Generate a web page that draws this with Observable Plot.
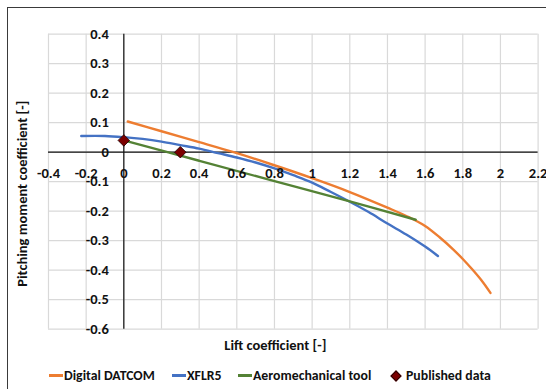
<!DOCTYPE html>
<html>
<head>
<meta charset="utf-8">
<script src="https://cdn.jsdelivr.net/npm/d3@7"></script>
<script src="https://cdn.jsdelivr.net/npm/@observablehq/plot@0.6"></script>
<style>
  body { margin: 0; background: #fff; }
  #chart { position: relative; width: 546px; height: 389px; overflow: hidden; font-family: Carlito, Lato, "Open Sans", sans-serif; }
  #frame { position: absolute; left: 7px; top: 7px; width: 600px; height: 420px; border-top: 1.5px solid #3a3a3a; border-left: 1.5px solid #3a3a3a; pointer-events: none; }
  #legend { position: absolute; left: 0; top: 367px; width: 546px; height: 18px; }
  .item { position: absolute; top: 0; display: flex; align-items: center; font-weight: bold; font-size: 13.8px; color: #111; white-space: nowrap; }
  .swatch { width: 14px; height: 2.5px; margin-right: 1px; }
  .diamond { width: 6px; height: 6px; transform: rotate(45deg); background: #7b0000; border: 1px solid #2a0000; margin: 0 6px 0 3px; }
</style>
</head>
<body>
<div id="chart">
  <div id="frame"></div>
  <div id="legend"></div>
</div>
<script>
// Pitching moment coefficient vs. lift coefficient, four sources
const datcomCL = [0.021, 0.2, 0.4, 0.583, 0.779, 1.0, 1.2, 1.4, 1.52, 1.6, 1.68, 1.75, 1.8, 1.85, 1.9, 1.947];
const datcomCm = [0.104, 0.071, 0.034, 0.0, -0.040, -0.088, -0.135, -0.188, -0.222, -0.250, -0.290, -0.330, -0.362, -0.397, -0.435, -0.477];

const xflr5CL = [-0.226, -0.1, 0.0, 0.1, 0.2, 0.3, 0.4, 0.5, 0.6, 0.7, 0.8, 0.9, 1.0, 1.1, 1.2, 1.3, 1.4, 1.5, 1.6, 1.668];
const xflr5Cm = [0.055, 0.055, 0.051, 0.045, 0.036, 0.024, 0.012, -0.003, -0.018, -0.035, -0.055, -0.078, -0.103, -0.135, -0.168, -0.203, -0.242, -0.279, -0.320, -0.352];

const aeroCL = [0.0, 0.4, 0.8, 1.2, 1.55];
const aeroCm = [0.040, -0.029, -0.098, -0.167, -0.229];

const publishedCL = [0.0, 0.3];
const publishedCm = [0.04, 0.0];

const seriesNames = ["Digital DATCOM", "XFLR5", "Aeromechanical tool", "Published data"];
const seriesColors = ["#ED7D31", "#4472C4", "#548235", "#7B0000"];

const xTicks = [-0.4, -0.2, 0, 0.2, 0.4, 0.6, 0.8, 1, 1.2, 1.4, 1.6, 1.8, 2, 2.2];
const yTicks = [-0.6, -0.5, -0.4, -0.3, -0.2, -0.1, 0, 0.1, 0.2, 0.3, 0.4];

const xTitle = "Lift coefficient [-]";
const yTitle = "Pitching moment coefficient [-]";

const toRows = (cl, cm, name) => cl.map((v, i) => ({cl: v, cm: cm[i], name}));
const lines = [
  toRows(datcomCL, datcomCm, seriesNames[0]),
  toRows(xflr5CL, xflr5Cm, seriesNames[1]),
  toRows(aeroCL, aeroCm, seriesNames[2])
];
const published = toRows(publishedCL, publishedCm, seriesNames[3]);
const fmt = v => String(Math.round(v * 10) / 10);
const labelFont = {fontWeight: "bold", fontSize: 14.5, fill: "#111", fontFamily: "Carlito, Lato, 'Open Sans', sans-serif"};

const plot = Plot.plot({
  width: 546,
  height: 389,
  marginLeft: 48,
  marginRight: 8.4,
  marginTop: 33.7,
  marginBottom: 60.3,
  x: {domain: [-0.4, 2.2], axis: null},
  y: {domain: [-0.6, 0.4], axis: null},
  style: {background: "transparent", overflow: "visible"},
  marks: [
    Plot.ruleX(xTicks, {stroke: "#d9d9d9", strokeWidth: 1.2, strokeOpacity: 1}),
    Plot.ruleY(yTicks, {stroke: "#d9d9d9", strokeWidth: 1.2, strokeOpacity: 1}),
    Plot.ruleX([0], {stroke: "#111", strokeWidth: 1.2}),
    Plot.ruleY([0], {stroke: "#111", strokeWidth: 1.2}),
    ...lines.map((rows, i) => Plot.line(rows, {
      x: "cl", y: "cm", stroke: seriesColors[i], strokeWidth: 2.4, curve: "catmull-rom"
    })),
    Plot.dot(published, {
      x: "cl", y: "cm", symbol: "diamond2", r: 5.2,
      fill: seriesColors[3], stroke: "#1a0000", strokeWidth: 0.8
    }),
    Plot.text(xTicks, {x: d => d, y: () => 0, text: fmt, dy: 21, ...labelFont}),
    Plot.text(yTicks, {x: () => 0, y: d => d, text: fmt, dx: -15, textAnchor: "end", ...labelFont}),
    Plot.text([xTitle], {frameAnchor: "bottom", textAnchor: "middle", lineAnchor: "middle", dx: -18, dy: 16, ...labelFont}),
    Plot.text([yTitle], {frameAnchor: "left", textAnchor: "middle", lineAnchor: "middle", dx: -26, dy: 12, rotate: -90, ...labelFont})
  ]
});
document.getElementById("chart").prepend(plot);

// Legend row below the plot
const legendLefts = [49, 172, 238, 389];
const legend = document.getElementById("legend");
seriesNames.forEach((name, i) => {
  const item = document.createElement("div");
  item.className = "item";
  item.style.left = legendLefts[i] + "px";
  const mark = document.createElement("span");
  if (i < 3) {
    mark.className = "swatch";
    mark.style.background = seriesColors[i];
  } else {
    mark.className = "diamond";
  }
  item.appendChild(mark);
  item.appendChild(document.createTextNode(name));
  legend.appendChild(item);
});
</script>
</body>
</html>
